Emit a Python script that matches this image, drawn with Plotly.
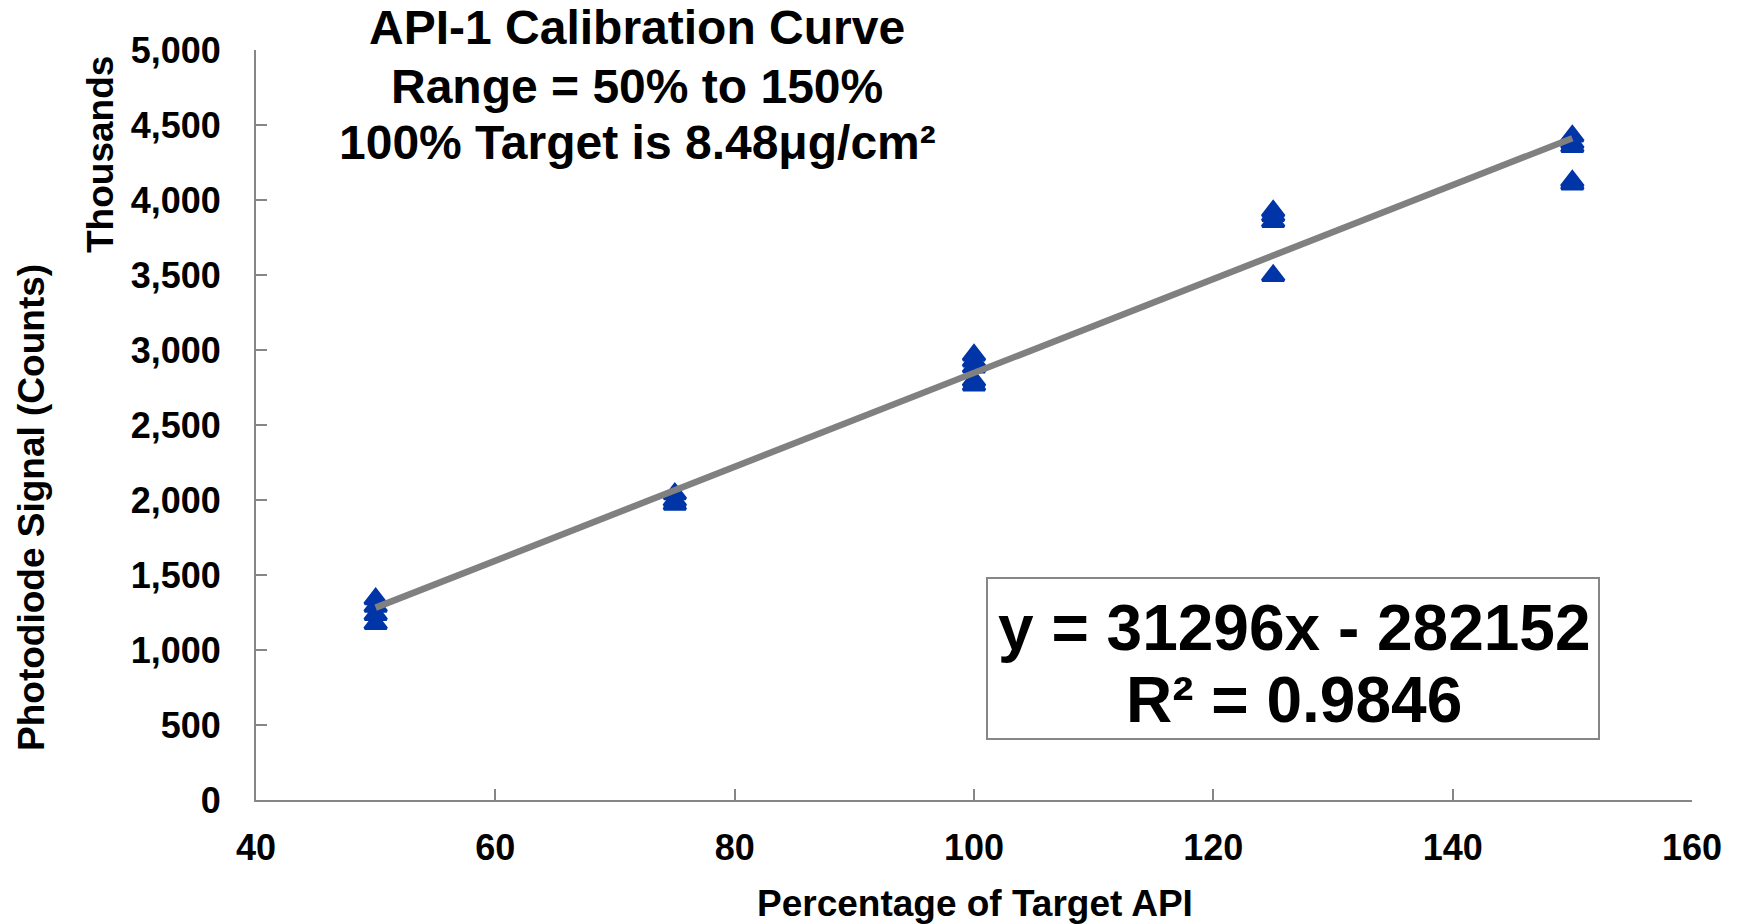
import plotly.graph_objects as go

# ---- data (y in thousands of counts) ----
x_50 = [50, 50, 50, 50]
y_50 = [1340, 1290, 1235, 1175]
x_75 = [75, 75, 75]
y_75 = [2040, 1995, 1970]
x_100 = [100, 100, 100, 100, 100]
y_100 = [2965, 2925, 2885, 2795, 2765]
x_125 = [125, 125, 125, 125]
y_125 = [3925, 3895, 3855, 3495]
x_150 = [150, 150, 150, 150, 150]
y_150 = [4425, 4380, 4355, 4125, 4105]

slope = 31296
intercept = -282152
r_squared = 0.9846

x_ticks = [40, 60, 80, 100, 120, 140, 160]
y_ticks = [0, 500, 1000, 1500, 2000, 2500, 3000, 3500, 4000, 4500, 5000]

xs = x_50 + x_75 + x_100 + x_125 + x_150
ys = y_50 + y_75 + y_100 + y_125 + y_150

FONT = "Arial, Liberation Sans, sans-serif"
BLUE = "#0035A8"
GREY = "#868686"

fig = go.Figure()
fig.add_trace(go.Scatter(
    x=xs, y=ys, mode="markers",
    marker=dict(symbol="triangle-up", size=19, color=BLUE,
                line=dict(color=BLUE, width=3)),
    showlegend=False, cliponaxis=False))

x_fit = [min(xs), max(xs)]
y_fit = [(slope * v + intercept) / 1000 for v in x_fit]
fig.add_trace(go.Scatter(
    x=x_fit, y=y_fit, mode="lines",
    line=dict(color="#808080", width=6.5),
    showlegend=False))

axis_common = dict(
    showline=True, linecolor=GREY, linewidth=2,
    ticks="inside", ticklen=11, tickwidth=2, tickcolor=GREY,
    showgrid=False, zeroline=False,
    tickfont=dict(family=FONT, size=36, color="black", weight="bold"),
)
fig.update_xaxes(range=[40, 160], tickvals=x_ticks, ticklabelstandoff=15, **axis_common)
fig.update_yaxes(range=[0, 5000], tickvals=y_ticks, tickformat=",d",
                 ticklabelstandoff=26, **axis_common)

L, R, T, B = 256, 51, 50, 124
W, H = 1743, 924
pw, ph = W - L - R, H - T - B

def px(xp):
    return (xp - L) / pw

def py(yp):
    return (H - B - yp) / ph

annots = []
title_lines = ["API-1 Calibration Curve", "Range = 50% to 150%",
               "100% Target is 8.48μg/cm²"]
for line, yp in zip(title_lines, [28, 86, 142]):
    annots.append(dict(text="<b>%s</b>" % line, x=px(637), y=py(yp),
                       xref="paper", yref="paper", showarrow=False,
                       xanchor="center", yanchor="middle",
                       font=dict(family=FONT, size=48, color="black")))

annots.append(dict(text="<b>Thousands</b>", x=px(100), y=py(155), textangle=-90,
                   xref="paper", yref="paper", showarrow=False,
                   xanchor="center", yanchor="middle",
                   font=dict(family=FONT, size=37, color="black")))
annots.append(dict(text="<b>Photodiode Signal (Counts)</b>", x=px(31), y=py(508),
                   textangle=-90, xref="paper", yref="paper", showarrow=False,
                   xanchor="center", yanchor="middle",
                   font=dict(family=FONT, size=37, color="black")))
annots.append(dict(text="<b>Percentage of Target API</b>", x=px(975), y=py(903),
                   xref="paper", yref="paper", showarrow=False,
                   xanchor="center", yanchor="middle",
                   font=dict(family=FONT, size=37, color="black")))

annots.append(dict(text="<b>y = %dx - %d</b>" % (slope, -intercept),
                   x=px(1294), y=py(628),
                   xref="paper", yref="paper", showarrow=False,
                   xanchor="center", yanchor="middle",
                   font=dict(family=FONT, size=64, color="black")))
annots.append(dict(text="<b>R² = %.4f</b>" % r_squared, x=px(1294), y=py(700),
                   xref="paper", yref="paper", showarrow=False,
                   xanchor="center", yanchor="middle",
                   font=dict(family=FONT, size=64, color="black")))

fig.add_shape(type="rect", xref="paper", yref="paper",
              x0=px(987), x1=px(1599), y0=py(739), y1=py(578),
              line=dict(color=GREY, width=2), fillcolor="rgba(0,0,0,0)")

fig.update_layout(
    width=W, height=H,
    margin=dict(l=L, r=R, t=T, b=B),
    paper_bgcolor="white", plot_bgcolor="white",
    annotations=annots,
    font=dict(family=FONT),
)

fig.write_html("out.html")
